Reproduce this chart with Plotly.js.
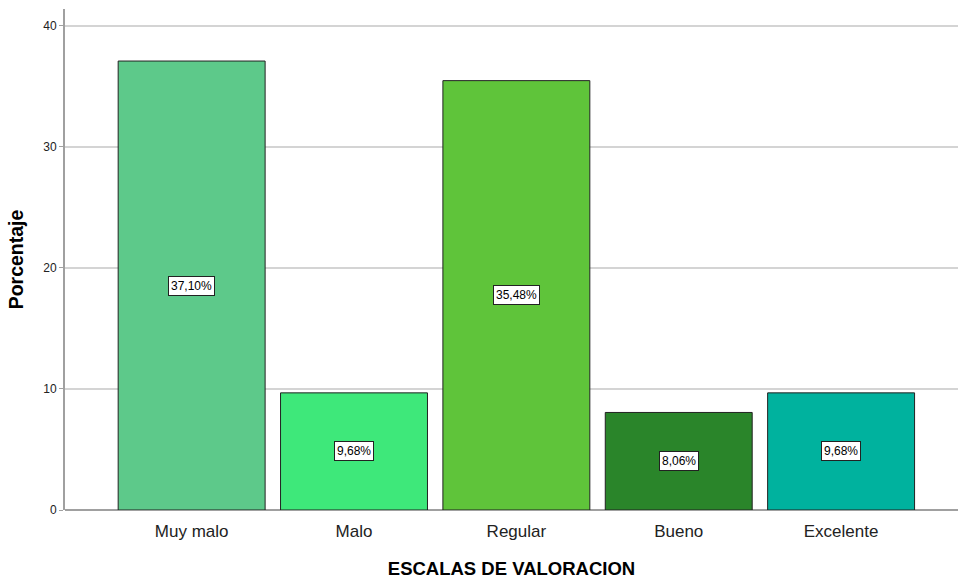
<!DOCTYPE html>
<html>
<head>
<meta charset="utf-8">
<script src="https://cdn.plot.ly/plotly-3.0.1.min.js"></script>
<style>html,body{margin:0;padding:0;background:#fff;}#chart{width:958px;height:581px;}</style>
</head>
<body>
<div id="chart"></div>
<script>
const categories = ["Muy malo", "Malo", "Regular", "Bueno", "Excelente"];
const values = [37.10, 9.68, 35.48, 8.06, 9.68];
const labels = ["37,10%", "9,68%", "35,48%", "8,06%", "9,68%"];
const colors = ["#5dc98a", "#3ee87a", "#5fc43a", "#2a852a", "#00b29e"];
const yTicks = [0, 10, 20, 30, 40];

const trace = {
  type: "bar",
  x: categories,
  y: values,
  width: 0.905,
  marker: { color: colors, line: { color: "#222222", width: 1 } },
  hoverinfo: "none"
};

const annotations = categories.map((c, i) => ({
  x: c, y: values[i] / 2, xref: "x", yref: "y",
  text: labels[i], showarrow: false,
  bgcolor: "#ffffff", bordercolor: "#222222", borderwidth: 1, borderpad: 2,
  font: { family: "Liberation Sans, Arial, sans-serif", size: 12, color: "#000" }
}));

const layout = {
  width: 958, height: 581,
  margin: { l: 65, r: 0, t: 9, b: 71 },
  paper_bgcolor: "#fff", plot_bgcolor: "#fff",
  showlegend: false,
  bargap: 0.095,
  xaxis: {
    type: "category",
    range: [-0.78, 4.72],
    showline: false, showgrid: false, zeroline: false,
    ticks: "", ticklabelstandoff: 9,
    tickfont: { family: "Liberation Sans, Arial, sans-serif", size: 17, color: "#222" },
    title: { text: "<b>ESCALAS DE VALORACION</b>", font: { family: "Liberation Sans, Arial, sans-serif", size: 18.5, color: "#000" }, standoff: 22 },
    automargin: false
  },
  yaxis: {
    range: [0, 41.4],
    tickvals: yTicks,
    ticktext: yTicks.map(String),
    showline: true, linecolor: "#a0a0a0", linewidth: 2,
    showgrid: true, gridcolor: "#d4d4d4", gridwidth: 1.5,
    zeroline: true, zerolinecolor: "#a0a0a0", zerolinewidth: 1.5,
    ticks: "outside", ticklen: 4, tickcolor: "#a0a0a0",
    tickfont: { family: "Liberation Sans, Arial, sans-serif", size: 12, color: "#222" },
    title: { text: "<b>Porcentaje</b>", font: { family: "Liberation Sans, Arial, sans-serif", size: 19.5, color: "#000" }, standoff: 14 },
    automargin: false
  },
  annotations: annotations
};

Plotly.newPlot("chart", [trace], layout, { displayModeBar: false, staticPlot: true });
</script>
</body>
</html>
